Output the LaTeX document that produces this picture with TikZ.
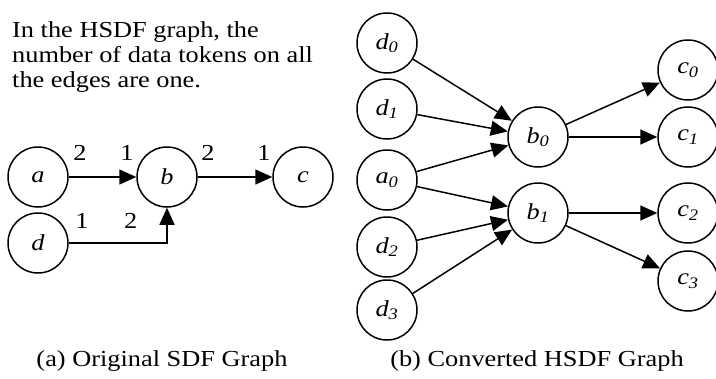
\documentclass[tikz,border=0pt]{standalone}
\usepackage{fontspec}
\setmainfont{Liberation Serif}[FakeStretch=1.15]
\usetikzlibrary{arrows.meta}
\tikzset{
  hs text/.style={font=\fontsize{23}{25.5}\selectfont},
  hs node/.style={draw, circle, line width=1.5pt, minimum size=60bp, inner sep=0pt,
    font=\fontsize{23}{25.5}\selectfont\itshape},
  hs arrow/.style={-{Triangle[length=17bp,width=15bp]}, line width=1.5pt},
  hs num/.style={inner sep=0pt, font=\fontsize{23}{25.5}\selectfont},
  hs caption/.style={inner sep=0pt, anchor=base, font=\fontsize{23}{25.5}\selectfont}
}

\begin{document}
\begin{tikzpicture}[x=1bp, y=1bp]
  \useasboundingbox (0,0) rectangle (716,378);
  % note on the left
  \node[hs text, inner sep=0pt, anchor=north west, align=left] (note) at (12,357)
    {In the HSDF graph, the\\number of data tokens on all\\the edges are one.};
  % (a) the SDF graph
  \node[hs node] (a) at (38,201) {a};
  \node[hs node] (b) at (167,201) {b};
  \node[hs node] (c) at (303,201) {c};
  \node[hs node] (d) at (38,135) {d};
  \draw[hs arrow] (a) -- node[hs num, at start, anchor=base west, xshift=4bp, yshift=17bp] {2}
    node[hs num, at end, anchor=base east, xshift=-2bp, yshift=17bp] {1} (b);
  \draw[hs arrow] (b) -- node[hs num, at start, anchor=base west, xshift=3bp, yshift=17bp] {2}
    node[hs num, at end, anchor=base east, xshift=-1bp, yshift=17bp] {1} (c);
  \draw[hs arrow] (d) -| node[hs num, at start, anchor=base west, xshift=6bp, yshift=15bp] {1}
    node[hs num, pos=0.5, anchor=base east, xshift=-29bp, yshift=15bp] {2} (b);
  % (b) the HSDF graph
  \foreach \v/\i/\x/\y in {d/0/387/335, d/1/387/269, a/0/387/198, d/2/387/131, d/3/387/68,
      b/0/538/241, b/1/538/165, c/0/688/308, c/1/688/241, c/2/688/165, c/3/688/97}
    {\node[hs node] (\v\i) at (\x,\y) {\v\textsubscript{\i}};}
  \foreach \s/\t in {d0/b0, d1/b0, a0/b0, a0/b1, d2/b1, d3/b1, b0/c0, b0/c1, b1/c2, b1/c3}
    {\draw[hs arrow] (\s) -- (\t);}
  % captions
  \node[hs caption] (capa) at (162,12) {(a) Original SDF Graph};
  \node[hs caption] (capb) at (537,12) {(b) Converted HSDF Graph};
\end{tikzpicture}
\end{document}
